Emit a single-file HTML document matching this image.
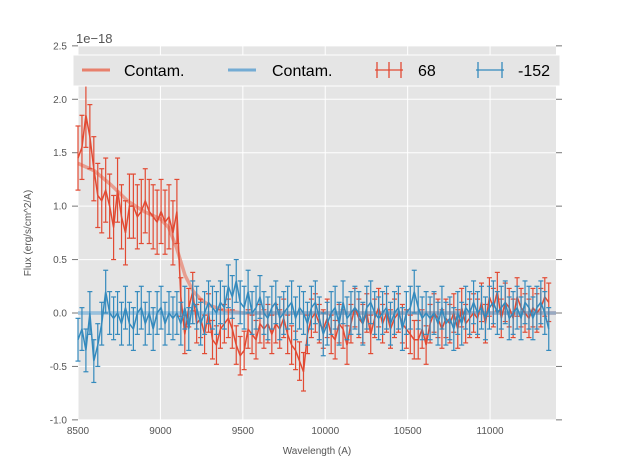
<!DOCTYPE html>
<html><head><meta charset="utf-8">
<style>
body{margin:0;background:#fff;width:617px;height:467px;overflow:hidden;font-family:"Liberation Sans",sans-serif;}
svg text{font-family:"Liberation Sans",sans-serif;}
</style></head>
<body>
<svg id="chart" width="617" height="467" xmlns="http://www.w3.org/2000/svg">
<rect x="78" y="46" width="478" height="374" fill="#e5e5e5"/>
<g id="grid"></g>
<g id="ticks"></g>
<g id="marks"></g>
<text x="76" y="43" font-size="13" fill="#555">1e−18</text>
<text x="317" y="454" font-size="10" fill="#555" text-anchor="middle">Wavelength (A)</text>
<text transform="translate(31,233) rotate(-90)" font-size="10" fill="#555" text-anchor="middle">Flux (erg/s/cm^2/A)</text>
<g>
<rect x="73" y="55" width="487" height="31" fill="#e5e5e5" stroke="#fff" stroke-width="1"/>
<line x1="82" y1="70" x2="110" y2="70" stroke="#e8806c" stroke-width="3"/>
<text x="124" y="76" font-size="16" fill="#000">Contam.</text>
<line x1="228" y1="70" x2="256" y2="70" stroke="#74acd4" stroke-width="3"/>
<text x="272" y="76" font-size="16" fill="#000">Contam.</text>
<g stroke="#e24a33" stroke-width="1.3"><line x1="375" y1="70" x2="403" y2="70"/><line x1="389" y1="62" x2="389" y2="78"/><line x1="377" y1="62" x2="377" y2="78"/><line x1="401" y1="62" x2="401" y2="78"/></g>
<text x="418" y="76" font-size="16" fill="#000">68</text>
<g stroke="#348abd" stroke-width="1.3"><line x1="476" y1="70" x2="504" y2="70"/><line x1="478" y1="62" x2="478" y2="78"/><line x1="502" y1="62" x2="502" y2="78"/></g>
<text x="518" y="76" font-size="16" fill="#000">-152</text>
</g>
</svg>
<script>
const xTicks=[8500,9000,9500,10000,10500,11000];
const yTicks=[-1.0,-0.5,0.0,0.5,1.0,1.5,2.0,2.5];
const wStart=8500, wStep=24;
const redFlux=[1.45,1.55,1.85,1.65,1.35,1.1,1.05,1.15,1.0,0.8,
1.15,0.9,0.75,1.0,1.0,0.9,0.95,1.05,0.95,0.9,
0.85,0.95,0.85,0.9,0.75,0.95,0.15,-0.2,0.05,0.2,
-0.1,-0.05,-0.2,0.0,-0.25,-0.3,-0.15,-0.1,-0.05,-0.15,
-0.3,-0.4,-0.35,-0.15,-0.2,-0.25,-0.1,-0.15,-0.1,-0.2,
-0.1,-0.15,-0.05,-0.2,-0.3,-0.35,-0.45,-0.55,-0.2,-0.05,
0.0,-0.1,-0.15,-0.05,-0.2,-0.25,-0.1,-0.15,-0.3,-0.1,
0.05,-0.05,-0.1,0.0,-0.2,-0.05,0.05,-0.1,0.0,-0.15,
-0.05,0.0,-0.1,-0.15,-0.2,-0.25,-0.25,-0.15,-0.3,-0.1,
0.0,-0.05,-0.15,-0.05,-0.1,0.0,-0.15,0.05,-0.1,-0.05,
0.0,-0.05,0.1,-0.1,0.15,0.05,0.2,-0.05,0.1,0.05,
-0.05,0.15,0.05,0.0,-0.05,0.05,0.0,0.05,0.15,0.1];
const blueFlux=[-0.25,-0.15,-0.35,0.0,-0.45,-0.3,-0.1,0.2,0.0,-0.05,
0.0,-0.1,0.05,-0.1,-0.15,0.0,0.05,-0.1,0.0,-0.15,
0.0,0.05,-0.1,0.0,-0.05,0.0,-0.1,0.05,-0.15,0.1,
0.05,-0.1,0.0,0.1,0.05,0.0,0.1,0.05,0.25,0.15,
0.3,0.1,0.05,0.2,0.0,0.05,0.15,0.0,-0.05,0.05,
0.1,-0.05,0.0,0.05,0.1,-0.05,0.05,0.0,-0.1,0.05,
0.1,-0.05,-0.2,-0.1,0.0,0.05,-0.1,0.1,-0.05,0.0,
0.05,0.0,-0.1,0.05,0.1,0.0,-0.05,0.0,0.05,-0.1,
0.0,0.05,-0.15,0.0,0.05,0.2,0.05,-0.05,0.0,-0.05,
0.0,-0.1,0.05,-0.1,-0.05,-0.15,0.0,-0.1,0.05,0.0,
0.1,0.0,0.05,-0.05,0.05,0.1,0.0,0.05,0.1,-0.05,
0.0,0.05,-0.05,0.1,0.05,-0.05,0.05,0.1,0.0,-0.15];
const redErrEarly=0.3, redErrLate=0.18, blueErr=0.2;
const contamWave=[8500,8600,8700,8800,8900,9000,9050,9100,9150,9200,9250,9300,9400,9500,9700,11400];
const contamRed=[1.4,1.33,1.2,1.05,0.95,0.88,0.8,0.6,0.35,0.2,0.12,0.07,0.02,0.0,0.0,0.0];
const contamBlue=[0,0,0,0,0,0,0,0,0,0,0,0,0,0,0,0];

const X=w=>78+(w-8500)*478/2900;
const Y=v=>313-v*106.86;
const NS="http://www.w3.org/2000/svg";
function mk(parent,tag,attrs){const e=document.createElementNS(NS,tag);for(const k in attrs)e.setAttribute(k,attrs[k]);parent.appendChild(e);return e;}
const grid=document.getElementById('grid'),ticks=document.getElementById('ticks'),marks=document.getElementById('marks');
xTicks.forEach(t=>{
 const gl=mk(grid,'line',{x1:X(t),x2:X(t),y1:46,y2:420,stroke:'#fff','stroke-width':1});
 
 
 const tl=mk(ticks,'text',{x:X(t),y:434,'font-size':10,fill:'#555','text-anchor':'middle'});
 tl.textContent=t;
 
 
});
yTicks.forEach(t=>{
 const gl=mk(grid,'line',{x1:78,x2:556,y1:Y(t),y2:Y(t),stroke:'#fff','stroke-width':1});
 
 
 mk(ticks,'line',{x1:72,x2:78,y1:Y(t),y2:Y(t),stroke:'#777'});
 mk(ticks,'line',{x1:556,x2:562,y1:Y(t),y2:Y(t),stroke:'#777'});
 const tl=mk(ticks,'text',{x:67,y:Y(t)+3.5,'font-size':10,fill:'#555','text-anchor':'end'});
 tl.textContent=t.toFixed(1);
 
 
});
function contam(vals,color,name){
 const p=mk(marks,'polyline',{points:contamWave.map((w,i)=>X(w)+','+Y(vals[i])).join(' '),fill:'none',stroke:color,'stroke-width':3.5,'stroke-opacity':0.7});
 
 
}
function series(vals,errFn,color,name){
 const g=mk(marks,'g',{stroke:color,'stroke-width':1.2,fill:'none'});
 
 
 vals.forEach((v,i)=>{
  const x=X(wStart+i*wStep),e=errFn(i);
  mk(g,'line',{x1:x,x2:x,y1:Y(v-e),y2:Y(v+e)});
  mk(g,'line',{x1:x-2.5,x2:x+2.5,y1:Y(v-e),y2:Y(v-e)});
  mk(g,'line',{x1:x-2.5,x2:x+2.5,y1:Y(v+e),y2:Y(v+e)});
 });
 mk(g,'polyline',{points:vals.map((v,i)=>X(wStart+i*wStep)+','+Y(v)).join(' '),'stroke-width':1.5});
}
contam(contamRed,'#e8806c','contam-line-68');
contam(contamBlue,'#74acd4','contam-line-minus152');
series(redFlux,i=>i<26?redErrEarly:redErrLate,'#e24a33','series-68');
series(blueFlux,()=>blueErr,'#348abd','series-minus152');
</script>
</body></html>
